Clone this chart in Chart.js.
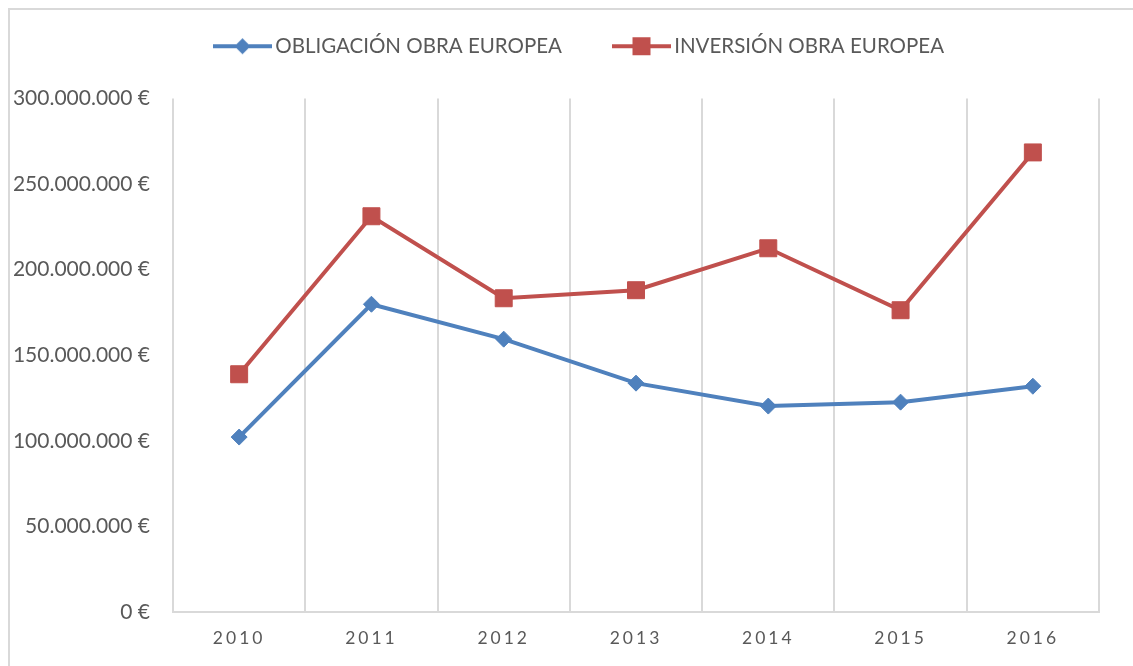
<!DOCTYPE html>
<html>
<head>
<meta charset="utf-8">
<script src="https://cdn.jsdelivr.net/npm/chart.js@4.4.1/dist/chart.umd.min.js"></script>
<style>
  html, body { margin: 0; padding: 0; background: #fff; overflow: hidden; }
  #frame { position: absolute; left: 8px; top: 8px; width: 1150px; height: 690px; border: 2px solid #d9d9d9; }
  #wrap { position: absolute; left: 0; top: 0; width: 1133px; height: 666px; }
</style>
</head>
<body>
<div id="frame"></div>
<div id="wrap"><canvas id="chart"></canvas></div>
<script>
const years = ["2010", "2011", "2012", "2013", "2014", "2015", "2016"]
const obligacion = [102200000, 179800000, 159400000, 133700000, 120300000, 122600000, 131900000]
const inversion = [138900000, 231200000, 183300000, 188000000, 212500000, 176300000, 268500000]
const seriesNames = ["OBLIGACIÓN OBRA EUROPEA", "INVERSIÓN OBRA EUROPEA"]

const BLUE = "#4f81bd"
const RED = "#c0504d"
const GRID = "#d9d9d9"
const TEXT = "#595959"
const FONT = "Lato, 'Open Sans', sans-serif"

function euro(v) {
  return String(Math.round(v)).replace(/\B(?=(\d{3})+(?!\d))/g, ".") + " €"
}

// legend swatch: line with marker across, sitting on the right of a wider transparent image
function swatch(color, style) {
  const c = document.createElement("canvas")
  c.width = 84
  c.height = 20
  const ctx = c.getContext("2d")
  ctx.strokeStyle = color
  ctx.lineWidth = 4
  ctx.beginPath()
  ctx.moveTo(24, 10)
  ctx.lineTo(83, 10)
  ctx.stroke()
  ctx.fillStyle = color
  ctx.beginPath()
  const cx = 53.5
  if (style === "diamond") {
    ctx.moveTo(cx, 2); ctx.lineTo(cx + 8, 10); ctx.lineTo(cx, 18); ctx.lineTo(cx - 8, 10)
  } else {
    ctx.rect(cx - 9, 1, 18, 18)
  }
  ctx.closePath()
  ctx.fill()
  return c
}
const swatches = [swatch(BLUE, "diamond"), swatch(RED, "square")]

const tweaks = {
  id: "tweaks",
  beforeLayout(chart) {
    // extra room under the legend, like the Excel original
    const lg = chart.legend
    if (lg && !lg._padded) {
      const fit = lg.fit
      lg.fit = function () {
        fit.call(this)
        this.height += 32
      }
      lg._padded = true
    }
  },
  afterLayout(chart) {
    // Excel puts the legend a little right of centre
    if (chart.legend) chart.legend.left += 42
    const s = chart.scales.x
    if (s && !s._spaced) {
      const orig = s.drawLabels.bind(s)
      s.drawLabels = function (area) {
        const ctx = this.ctx
        ctx.save()
        ctx.letterSpacing = "3px"
        orig(area)
        ctx.restore()
      }
      s._spaced = true
    }
  }
}

new Chart(document.getElementById("chart"), {
  type: "line",
  data: {
    labels: years,
    datasets: [
      {
        label: seriesNames[0],
        data: obligacion,
        borderColor: BLUE,
        backgroundColor: BLUE,
        borderWidth: 4,
        pointStyle: "rectRot",
        pointRadius: 8,
        pointBorderWidth: 1,
        tension: 0
      },
      {
        label: seriesNames[1],
        data: inversion,
        borderColor: RED,
        backgroundColor: RED,
        borderWidth: 4,
        pointStyle: "rect",
        pointRadius: 12,
        pointBorderWidth: 1,
        tension: 0
      }
    ]
  },
  options: {
    responsive: true,
    maintainAspectRatio: false,
    animation: false,
    layout: { padding: { top: 2, right: 34, bottom: 0, left: 0 } },
    plugins: {
      tooltip: { enabled: false },
      legend: {
        position: "top",
        labels: {
          usePointStyle: true,
          pointStyleWidth: 68,
          padding: 34,
          color: TEXT,
          font: { family: FONT, size: 20.5 },
          generateLabels(chart) {
            return chart.data.datasets.map((ds, i) => ({
              text: ds.label,
              pointStyle: swatches[i],
              fillStyle: ds.borderColor,
              strokeStyle: ds.borderColor,
              lineWidth: 0,
              fontColor: TEXT,
              datasetIndex: i
            }))
          }
        }
      }
    },
    scales: {
      x: {
        offset: true,
        afterFit(scale) { scale.height = 54 },
        grid: { display: true, offset: true, color: GRID, lineWidth: 2, drawTicks: false },
        border: { display: true, color: GRID, width: 2 },
        ticks: { color: TEXT, padding: 16, font: { family: FONT, size: 17.5 } }
      },
      y: {
        min: 0,
        max: 300000000,
        afterFit(scale) { scale.width = 173 },
        grid: { display: false, drawTicks: false },
        border: { display: false },
        ticks: {
          stepSize: 50000000,
          color: TEXT,
          padding: 23,
          font: { family: FONT, size: 21 },
          callback: (v) => euro(v)
        }
      }
    }
  },
  plugins: [tweaks]
})
</script>
</body>
</html>
